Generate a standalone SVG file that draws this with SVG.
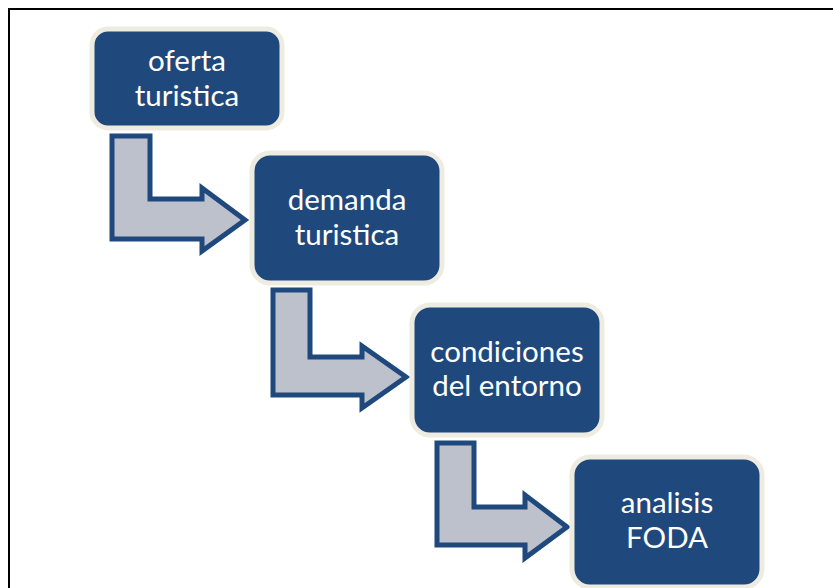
<svg xmlns="http://www.w3.org/2000/svg" width="833" height="588" viewBox="0 0 833 588">
<style>
.box{fill:#1F497D;stroke:#EEECE1;stroke-width:5}
.arr{fill:#BCC1CC;stroke:#1F497D;stroke-width:5;stroke-linejoin:miter}
.lbl{font-family:Lato,"Open Sans",sans-serif;font-size:29.5px;fill:#FFFFFF;text-anchor:middle}
</style>
<rect x="0" y="0" width="833" height="588" fill="#FFFFFF"/>
<rect x="9" y="9" width="900" height="700" fill="none" stroke="#000000" stroke-width="2"/>
<g id="connectors">
<path class="arr" d="M112,136 L150,136 L150,199 L202,199 L202,188 L245,220 L202,251 L202,239 L112,239 Z"/>
<path class="arr" d="M273,290 L310,290 L310,357 L362,357 L362,346 L406,377 L362,408 L362,395 L273,395 Z"/>
<path class="arr" d="M437,443 L474,443 L474,507 L525,507 L525,495 L567,527 L525,558 L525,545 L437,545 Z"/>
</g>
<g id="node1">
<rect class="box" x="92" y="29" width="190" height="99" rx="16"/>
<text class="lbl" x="187" y="71">oferta</text>
<text class="lbl" x="187" y="106">turistica</text>
</g>
<g id="node2">
<rect class="box" x="252" y="153" width="190" height="130" rx="18"/>
<text class="lbl" x="347" y="210">demanda</text>
<text class="lbl" x="347" y="245">turistica</text>
</g>
<g id="node3">
<rect class="box" x="412" y="305" width="190" height="130" rx="18"/>
<text class="lbl" x="507" y="362">condiciones</text>
<text class="lbl" x="507" y="396">del entorno</text>
</g>
<g id="node4">
<rect class="box" x="572" y="457" width="190" height="130" rx="18"/>
<text class="lbl" x="667" y="513">analisis</text>
<text class="lbl" x="667" y="548">FODA</text>
</g>
</svg>
